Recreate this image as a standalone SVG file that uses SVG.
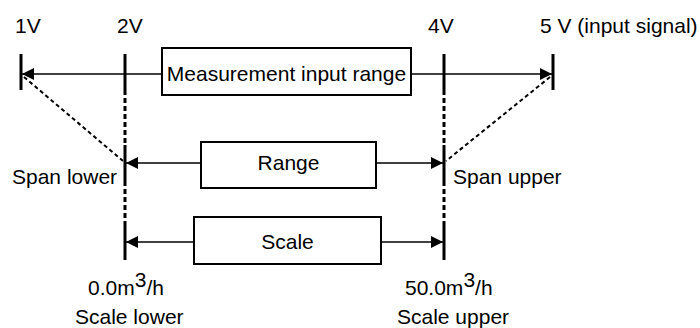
<svg xmlns="http://www.w3.org/2000/svg" width="700" height="328" viewBox="0 0 700 328">
<style>
text{font-family:"Liberation Sans",Arial,sans-serif;font-size:21px;fill:#000}
.box{fill:#fff;stroke:#000;stroke-width:2}
.tick{stroke:#000;stroke-width:3;fill:none}
.vdash{stroke:#000;stroke-width:3;stroke-dasharray:5 3;fill:none}
.ddash{stroke:#000;stroke-width:2;stroke-dasharray:4 3;fill:none}
.arr{stroke:#000;stroke-width:1.5;fill:none;marker-end:url(#ah)}
</style>
<defs>
<marker id="ah" viewBox="0 0 12 12" refX="12" refY="6" markerWidth="12" markerHeight="12" markerUnits="userSpaceOnUse" orient="auto">
<path d="M0,0 L12,6 L0,12 z" fill="#000"/>
</marker>
</defs>
<g id="labels">
<text x="15" y="33">1V</text>
<text x="117" y="33">2V</text>
<text x="428" y="33">4V</text>
<text x="540" y="33">5 V (input signal)</text>
<text x="12" y="184">Span lower</text>
<text x="453" y="184">Span upper</text>
<text x="88" y="295">0.0m<tspan dy="-8">3</tspan><tspan dy="8">/h</tspan></text>
<text x="75" y="324">Scale lower</text>
<text x="405" y="295">50.0m<tspan dy="-8">3</tspan><tspan dy="8">/h</tspan></text>
<text x="397" y="324">Scale upper</text>
</g>
<g id="connectors">
<path class="tick" d="M21,54V90M125,54V90M125,145V181M125,224V260M444,54V90M444,145V181M444,224V260M553,54V90"/>
<path class="vdash" d="M125,90V145M125,181V224M444,90V145M444,181V224"/>
<path class="ddash" d="M24,77L123,161M550,77L446,161"/>
<line class="arr" x1="162" y1="74" x2="22" y2="74"/>
<line class="arr" x1="411" y1="74" x2="552" y2="74"/>
<line class="arr" x1="201" y1="163" x2="126" y2="163"/>
<line class="arr" x1="376" y1="163" x2="443" y2="163"/>
<line class="arr" x1="194" y1="242" x2="126" y2="242"/>
<line class="arr" x1="381" y1="242" x2="443" y2="242"/>
</g>
<g id="measurement">
<rect class="box" x="162" y="48" width="249" height="47"/>
<text x="286.5" y="81" text-anchor="middle">Measurement input range</text>
</g>
<g id="range">
<rect class="box" x="201" y="142" width="175" height="46"/>
<text x="288.5" y="170" text-anchor="middle">Range</text>
</g>
<g id="scale">
<rect class="box" x="194" y="217" width="187" height="47"/>
<text x="287.5" y="249" text-anchor="middle">Scale</text>
</g>
</svg>
